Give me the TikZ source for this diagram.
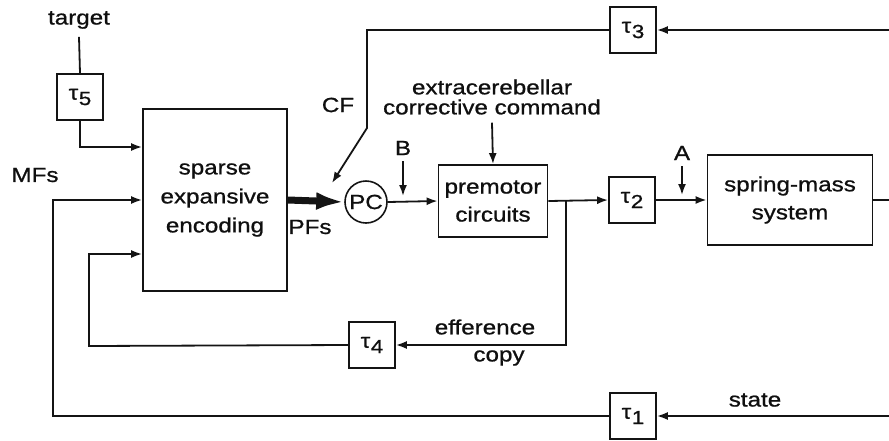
\documentclass[tikz,border=0pt]{standalone}
\usepackage{fontspec}
\setmainfont[FakeStretch=1.18,FakeBold=0.9]{Liberation Sans}
\usepackage{tikz}
\usetikzlibrary{
  arrows.meta,
  positioning,
  calc
}
\definecolor{linecolor}{RGB}{20, 20, 20}
\definecolor{labelcolor}{RGB}{15, 15, 15}
\newcommand{\dly}[1]{τ\kern0.6pt\raisebox{-0.5ex}{\fontsize{19}{19}\selectfont #1}}
\tikzset{
blocktext/.style={
  align=center,
  font=\fontsize{20.5}{24}\selectfont,
  text=labelcolor
},
block/.style={
  draw=linecolor,
  line width=1.8pt,
  inner sep=0pt,
  blocktext
},
delayblock/.style={
  block,
  minimum width=46pt,
  minimum height=46pt
},
pcnode/.style={
  circle,
  draw=linecolor,
  line width=1.6pt,
  minimum size=42pt,
  inner sep=0pt,
  blocktext
},
plainlabel/.style={
  blocktext,
  inner sep=0pt
},
line/.style={
  draw=linecolor,
  line width=1.8pt
},
arrow/.style={
  line,
  -{Latex[length=11pt,width=8pt]}
},
thickarrow/.style={
  draw=linecolor,
  line width=7pt,
  -{Latex[length=28pt,width=18pt]}
}
}

\begin{document}
\begin{tikzpicture}[x=1pt,y=-1pt]
  \useasboundingbox (0,0) rectangle (889,440);

  % blocks
  \node[block, minimum width=144pt, minimum height=182pt] (sparse) at (215,200)
    {sparse\\[5pt] expansive\\[5pt] encoding};
  \node[pcnode] (pc) at (366,202) {PC};
  \node[block, minimum width=109pt, minimum height=72pt] (premotor) at (493,201)
    {premotor\\[4pt] circuits};
  \node[block, minimum width=165pt, minimum height=90pt] (spring) at (790,200)
    {spring-mass\\[4pt] system};
  \node[delayblock] (tau5) at (80,97) {\dly{5}};
  \node[delayblock] (tau3) at (633,30) {\dly{3}};
  \node[delayblock] (tau2) at (632,200) {\dly{2}};
  \node[delayblock] (tau4) at (372,345) {\dly{4}};
  \node[delayblock] (tau1) at (633,416) {\dly{1}};

  % labels
  \node[plainlabel] (target) at (79,20) {target};
  \node[plainlabel] (mfs) at (35,175) {MFs};
  \node[plainlabel] (pfs) at (310,227) {PFs};
  \node[plainlabel] (cf) at (338,105) {CF};
  \node[plainlabel] (blabel) at (403,148) {B};
  \node[plainlabel] (alabel) at (682,153) {A};
  \node[plainlabel, font=\fontsize{20.5}{20}\selectfont] (command) at (492,97)
    {extracerebellar\\ corrective command};
  \node[plainlabel] (efference) at (485,327) {efference};
  \node[plainlabel] (copy) at (499,358) {copy};
  \node[plainlabel] (state) at (755,400) {state};

  % helper points
  \coordinate (mfcorner) at (53,416);
  \coordinate (effcorner) at (89,346);
  \coordinate (effbranch) at (566,201);
  \coordinate (cfkink) at (367,128);
  \coordinate (cftip) at (332,183);
  \coordinate (bpoint) at (403,196);
  \coordinate (apoint) at (682,195);
  \coordinate (stateout) at (889,200);
  \coordinate (feedtop) at (889,30);
  \coordinate (feedbottom) at (889,416);

  % connectors
  \draw[line] (target.south) ++(0,8) -- (tau5.north);
  \draw[arrow] (tau5.south) |- ([yshift=53pt]sparse.west);
  \draw[arrow] (tau1.west) -- (mfcorner) |- (sparse.west);
  \draw[arrow] (tau4.west) -- (effcorner) |- ([yshift=-54pt]sparse.west);
  \draw[thickarrow] (sparse.east) -- (pc.west);
  \draw[arrow] (tau3.west) -| (cfkink) -- (cftip);
  \draw[arrow] (pc.east) -- (premotor.west);
  \draw[arrow] (command.south) ++(0,8) -- (premotor.north);
  \draw[arrow] (blabel.south) ++(0,6) -- (bpoint);
  \draw[arrow] (premotor.east) -- (tau2.west);
  \draw[arrow] (effbranch) |- (tau4.east);
  \draw[arrow] (tau2.east) -- (spring.west);
  \draw[arrow] (alabel.south) ++(0,6) -- (apoint);
  \draw[line] (spring.east) -- (stateout);
  \draw[arrow] (feedtop) -- (tau3.east);
  \draw[arrow] (feedbottom) -- (tau1.east);
\end{tikzpicture}
\end{document}
